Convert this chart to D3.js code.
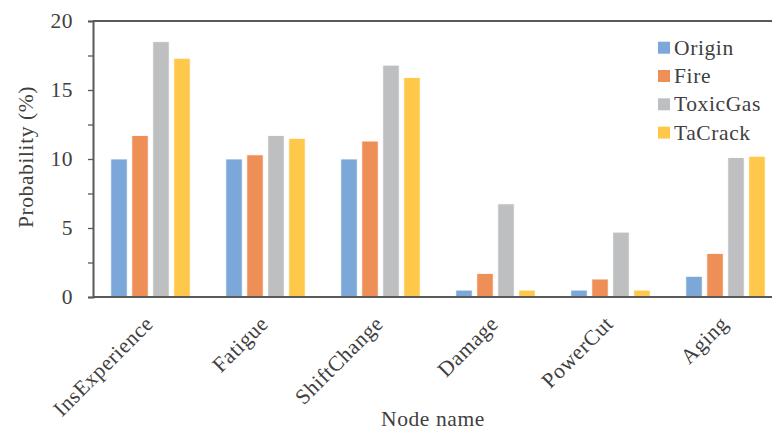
<!DOCTYPE html>
<html>
<head>
<meta charset="utf-8">
<script src="https://cdn.jsdelivr.net/npm/d3@7/dist/d3.min.js"></script>
<style>
  html, body { margin: 0; padding: 0; background: #fff; }
  svg { display: block; }
  text { font-family: "Liberation Serif", "Times New Roman", serif; fill: #404040; }
</style>
</head>
<body>
<svg id="chart" width="772" height="430"></svg>
<script>
const categories = ["InsExperience", "Fatigue", "ShiftChange", "Damage", "PowerCut", "Aging"];
const seriesNames = ["Origin", "Fire", "ToxicGas", "TaCrack"];
const origin   = [10.0, 10.0, 10.0, 0.5, 0.5, 1.5];
const fire     = [11.7, 10.3, 11.3, 1.7, 1.3, 3.15];
const toxicGas = [18.5, 11.7, 16.8, 6.75, 4.7, 10.1];
const taCrack  = [17.3, 11.5, 15.9, 0.5, 0.5, 10.2];
const colors   = ["#7BA7D9", "#EF8F58", "#BEBFC0", "#FFC84A"];
const yTicks   = [0, 2.5, 5, 7.5, 10, 12.5, 15, 17.5, 20];
const xTitle = "Node name";
const yTitle = "Probability (%)";

const seriesValues = [origin, fire, toxicGas, taCrack];

const svg = d3.select("#chart");
const mLeft = 93, mRight = 783, mTop = 21, mBottom = 297;
const FONT = '"Liberation Serif", "Times New Roman", serif';

const x0 = d3.scaleBand().domain(categories).range([mLeft, mRight])
  .paddingInner(0.27).paddingOuter(0.135);
const x1 = d3.scaleBand().domain(seriesNames).range([0, x0.bandwidth()])
  .paddingInner(0.22).paddingOuter(0.11);
const y = d3.scaleLinear().domain([0, 20]).range([mBottom, mTop]);

// bars
const groups = svg.append("g").selectAll("g")
  .data(categories).join("g")
  .attr("transform", d => `translate(${x0(d)},0)`);

groups.selectAll("rect")
  .data((c, ci) => seriesNames.map((s, si) => ({ s, si, v: seriesValues[si][ci] })))
  .join("rect")
  .attr("x", d => x1(d.s))
  .attr("y", d => y(d.v))
  .attr("width", x1.bandwidth())
  .attr("height", d => y(0) - y(d.v))
  .attr("fill", d => colors[d.si])
  .attr("stroke", "#ffffff")
  .attr("stroke-width", 0.8);

// frame top line
svg.append("line")
  .attr("x1", mLeft).attr("x2", mRight)
  .attr("y1", y(20)).attr("y2", y(20))
  .attr("stroke", "#595959").attr("stroke-width", 2);

// y axis
const yAxis = svg.append("g")
  .attr("transform", `translate(${mLeft},0)`)
  .call(d3.axisLeft(y).tickValues(yTicks).tickSize(5).tickPadding(15)
    .tickFormat(d => d % 5 === 0 ? d : ""));
yAxis.select(".domain").attr("stroke", "#595959").attr("stroke-width", 2);
yAxis.selectAll(".tick line").attr("stroke", "#595959").attr("stroke-width", 1.3);
yAxis.selectAll(".tick text")
  .style("font-family", FONT)
  .style("font-size", "21.5px").style("letter-spacing", "0.5px").attr("fill", "#404040");

// x axis baseline
svg.append("line")
  .attr("x1", mLeft).attr("x2", mRight)
  .attr("y1", y(0)).attr("y2", y(0))
  .attr("stroke", "#595959").attr("stroke-width", 2.2);

// x labels
svg.append("g").selectAll("text")
  .data(categories).join("text")
  .attr("transform", d => `translate(${x0(d) + x0.bandwidth() / 2 + 4},325) rotate(-45)`)
  .attr("text-anchor", "end")
  .style("font-family", FONT)
  .style("font-size", "21.5px").style("letter-spacing", "0.6px")
  .text(d => d);

// axis titles
svg.append("text")
  .attr("x", 433).attr("y", 426)
  .attr("text-anchor", "middle")
  .style("font-family", FONT)
  .style("font-size", "21.5px").style("letter-spacing", "0.6px")
  .text(xTitle);

svg.append("text")
  .attr("transform", "translate(33,157) rotate(-90)")
  .attr("text-anchor", "middle")
  .style("font-family", FONT)
  .style("font-size", "21.5px").style("letter-spacing", "0.6px")
  .text(yTitle);

// legend
const legend = svg.append("g").selectAll("g")
  .data(seriesNames).join("g")
  .attr("transform", (d, i) => `translate(658,${47.7 + i * 28.3})`);
legend.append("rect")
  .attr("x", 0).attr("y", -6).attr("width", 12).attr("height", 12)
  .attr("fill", (d, i) => colors[i]);
legend.append("text")
  .attr("x", 16).attr("y", 0).attr("dy", "0.33em")
  .style("font-family", FONT)
  .style("font-size", "21.5px").style("letter-spacing", "0.6px")
  .text(d => d);
</script>
</body>
</html>
